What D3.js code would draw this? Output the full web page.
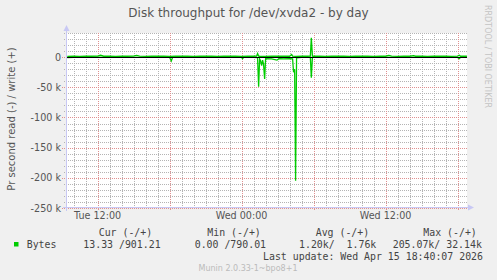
<!DOCTYPE html>
<html>
<head>
<meta charset="utf-8">
<script src="https://cdn.jsdelivr.net/npm/d3@7"></script>
<style>
html,body{margin:0;padding:0;background:#F0F0F0;}
svg{display:block;}
text{white-space:pre;}
</style>
</head>
<body>
<svg id="chart" width="497" height="280"></svg>
<script>
// ---- data (values in k bytes per second; hours since Tue 00:00) ----
const titleText = "Disk throughput for /dev/xvda2 - by day";
const yAxisTitle = "Pr second read (-) / write (+)";
const yTicks = [0, -50000, -100000, -150000, -200000, -250000];
const xTickLabels = ["Tue 12:00", "Wed 00:00", "Wed 12:00"];
const xTickHours = [12, 24, 36];

const writeSeries = [
  [9.48,1.3],[10,1.6],[10.5,1.4],[11,1.8],[11.5,1.5],[12,1.6],[12.25,3.2],[12.5,1.5],
  [13,1.7],[13.5,1.3],[14,1.8],[14.5,1.5],[15,1.6],[15.25,3.0],[15.5,1.6],[16,1.4],
  [16.5,1.7],[17,1.5],[17.5,1.8],[18,1.4],[18.5,1.6],[19,1.5],[19.5,1.7],[20,1.4],
  [20.5,1.8],[21,1.5],[21.5,1.6],[22,1.3],[22.5,1.7],[23,1.5],[23.5,1.6],[24,1.4],
  [24.5,1.8],[25,1.5],[25.25,1.6],[25.33,6.0],[25.42,1.8],[25.5,1.5],[26,1.4],
  [26.5,1.6],[27,1.5],[27.5,1.7],[28,1.5],[28.17,4.5],[28.25,1.6],[28.5,1.4],
  [29,1.7],[29.5,1.5],[29.73,1.6],[29.81,32.1],[29.9,1.7],[30,1.5],[30.5,1.6],
  [31,1.4],[31.5,1.8],[32,1.5],[32.5,1.6],[33,1.4],[33.5,1.7],[34,1.5],[34.5,1.6],
  [35,1.4],[35.5,1.7],[36,1.5],[36.28,3.0],[36.5,1.6],[37,1.4],[37.5,1.7],[38,1.5],
  [38.33,2.6],[38.5,1.5],[39,1.6],[39.5,1.4],[40,1.7],[40.5,1.5],[41,1.6],[41.5,1.4],
  [42,1.6],[42.14,3.2],[42.25,1.5],[42.5,1.6],[42.78,1.5]
];
const readSeries = [
  [9.48,0.6],[10,0.3],[11,0.4],[12,0.2],[13,0.4],[14,0.3],[15,0.4],[16,0.3],[17,0.4],
  [18,0.3],[18.14,6.5],[18.25,0.4],[19,0.3],[20,0.4],[21,0.3],[22,0.4],[23,0.3],
  [24,0.4],[24.08,2.5],[24.17,0.4],[25,0.3],[25.33,0.6],[25.42,49],[25.5,3],[25.58,6],
  [25.67,14],[25.75,5],[25.83,12],[25.92,36],[26,2.5],[26.5,2.8],[26.95,5],[27.1,2.6],
  [27.5,3.0],[28,2.6],[28.25,2.8],[28.33,25],[28.42,20],[28.5,205],[28.58,1],[29,0.4],
  [29.73,0.5],[29.81,34],[29.9,0.5],[30,0.4],[31,0.3],[32,0.4],[33,0.3],[34,0.4],
  [35,0.3],[36,0.4],[37,0.3],[38,0.4],[39,0.3],[40,0.4],[41,0.3],[42,0.4],[42.14,2.5],
  [42.25,0.4],[42.78,0.3]
];

const legendHeaders = ["Cur (-/+)", "Min (-/+)", "Avg (-/+)", "Max (-/+)"];
const legendName = "Bytes";
const legendValues = ["13.33 /901.21", "0.00 /790.01", "1.20k/  1.76k", "205.07k/ 32.14k"];
const lastUpdate = "Last update: Wed Apr 15 18:40:07 2026";
const versionText = "Munin 2.0.33-1~bpo8+1";
const sideText = "RRDTOOL / TOBI OETIKER";

// ---- drawing ----
const svg = d3.select("#chart");
const base = new Date(2026, 3, 14, 0, 0, 0).getTime();
const hDate = h => new Date(base + h * 3600e3);
const x = d3.scaleTime()
  .domain([new Date(2026, 3, 14, 9, 27), new Date(2026, 3, 15, 18, 47)])
  .range([67, 467]);
const y = d3.scaleLinear().domain([-250000, 40000]).range([208, 33]);
const px = v => Math.round(v) + 0.5;

const textColor = "#555";
const green = "#00CC00";

// plot background
svg.append("rect").attr("x", 67).attr("y", 33).attr("width", 400).attr("height", 175).attr("fill", "#FFFFFF");

// minor grid
const g = svg.append("g");
const minorColor = "#B4B4B4";
const majorColor = "#E09090";
const minorY = d3.range(-250000, 40001, 10000).filter(v => v % 50000 !== 0);
g.selectAll(".mhy").data(minorY).join("line")
  .attr("x1", 64).attr("x2", 468).attr("y1", d => px(y(d))).attr("y2", d => px(y(d)))
  .attr("stroke", minorColor).attr("stroke-width", 1).attr("stroke-dasharray", "1,1");
const hourTicks = d3.timeHour.every(1).range(x.domain()[0], x.domain()[1]);
const minorX = hourTicks.filter(d => d.getHours() % 6 !== 0);
const majorX = hourTicks.filter(d => d.getHours() % 6 === 0);
g.selectAll(".mvx").data(minorX).join("line")
  .attr("x1", d => px(x(d))).attr("x2", d => px(x(d))).attr("y1", 33).attr("y2", 208)
  .attr("stroke", minorColor).attr("stroke-width", 1).attr("stroke-dasharray", "1,1");
// major grid
g.selectAll(".Mhy").data(yTicks).join("line")
  .attr("x1", 62).attr("x2", 468).attr("y1", d => px(y(d))).attr("y2", d => px(y(d)))
  .attr("stroke", majorColor).attr("stroke-dasharray", "1,1");
g.selectAll(".Mvx").data(majorX).join("line")
  .attr("x1", d => px(x(d))).attr("x2", d => px(x(d))).attr("y1", 33).attr("y2", 211)
  .attr("stroke", majorColor).attr("stroke-dasharray", "1,1");

// axes lines with arrows
const axisColor = "#C8C8F4";
svg.append("line").attr("x1", 66.5).attr("x2", 66.5).attr("y1", 211).attr("y2", 30).attr("stroke", axisColor);
svg.append("path").attr("d", "M63.5,31 L69.5,31 L66.5,25 Z").attr("fill", axisColor);
svg.append("line").attr("x1", 63).attr("x2", 470).attr("y1", 207.5).attr("y2", 207.5).attr("stroke", axisColor);
svg.append("path").attr("d", "M468,204.5 L468,210.5 L474,207.5 Z").attr("fill", axisColor);

// y tick labels
svg.append("g").selectAll("text").data(yTicks).join("text")
  .attr("x", 61).attr("y", d => y(d) + 3.5)
  .attr("text-anchor", "end")
  .attr("font-family", "DejaVu Sans").attr("font-size", "9.6px").attr("fill", textColor)
  .text(d => d === 0 ? "0" : `${d / 1000} k`);

// x tick labels
svg.append("g").selectAll("text").data(xTickHours).join("text")
  .attr("x", d => x(hDate(d))).attr("y", 219)
  .attr("text-anchor", "middle")
  .attr("font-family", "DejaVu Sans").attr("font-size", "9.6px").attr("fill", textColor)
  .text((d, i) => xTickLabels[i]);

// data lines
const line = d3.line().x(d => x(hDate(d[0]))).y(d => y(d[1] * 1000));
svg.append("path").datum(readSeries.map(d => [d[0], -d[1]]))
  .attr("d", line).attr("fill", "none").attr("stroke", green).attr("stroke-width", 1.3);
svg.append("path").datum(writeSeries)
  .attr("d", line).attr("fill", "none").attr("stroke", green).attr("stroke-width", 1.3);

// zero line
svg.append("line").attr("x1", 67).attr("x2", 467).attr("y1", px(y(0))).attr("y2", px(y(0)))
  .attr("stroke", "#000").attr("stroke-width", 1.2);

// title
svg.append("text").attr("x", 248.5).attr("y", 17).attr("text-anchor", "middle")
  .attr("font-family", "DejaVu Sans").attr("font-size", "12px").attr("fill", textColor)
  .text(titleText);

// y axis title
svg.append("text").attr("transform", "translate(14.5,119) rotate(-90)")
  .attr("text-anchor", "middle")
  .attr("font-family", "DejaVu Sans").attr("font-size", "10px").attr("fill", textColor)
  .text(yAxisTitle);

// side text
svg.append("text").attr("transform", "translate(485,5) rotate(90)")
  .attr("text-anchor", "start")
  .attr("font-family", "DejaVu Sans").attr("font-size", "8px").attr("fill", "#C4C4C4")
  .text(sideText);

// legend
const mono = "DejaVu Sans Mono";
const legColor = "#444";
const headerX = [98.7, 207.3, 315.7, 423.3];
const valueX = [83.3, 194.7, 299, 392.7];
svg.append("g").selectAll("text").data(legendHeaders).join("text")
  .attr("x", (d, i) => headerX[i]).attr("y", 236)
  .attr("font-family", mono).attr("font-size", "9.9px").attr("fill", legColor)
  .attr("xml:space", "preserve").text(d => d);
svg.append("rect").attr("x", 14).attr("y", 242).attr("width", 4.5).attr("height", 4.5).attr("fill", green);
svg.append("text").attr("x", 26.7).attr("y", 248)
  .attr("font-family", mono).attr("font-size", "9.9px").attr("fill", legColor).text(legendName);
svg.append("g").selectAll("text").data(legendValues).join("text")
  .attr("x", (d, i) => valueX[i]).attr("y", 248)
  .attr("font-family", mono).attr("font-size", "9.9px").attr("fill", legColor)
  .attr("xml:space", "preserve").text(d => d);
svg.append("text").attr("x", 483).attr("y", 260).attr("text-anchor", "end")
  .attr("font-family", mono).attr("font-size", "9.9px").attr("fill", legColor)
  .attr("xml:space", "preserve").text(lastUpdate);
svg.append("text").attr("x", 248).attr("y", 271).attr("text-anchor", "middle")
  .attr("font-family", "DejaVu Sans").attr("font-size", "8px").attr("fill", "#BBBBBB")
  .text(versionText);
</script>
</body>
</html>
